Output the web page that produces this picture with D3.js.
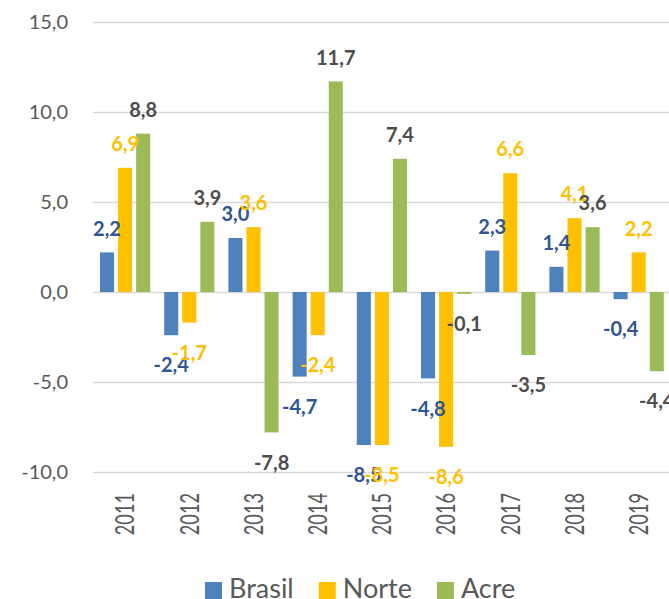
<!DOCTYPE html>
<html>
<head>
<meta charset="utf-8">
<script src="https://cdn.jsdelivr.net/npm/d3@7"></script>
<style>
    html, body { margin: 0; padding: 0; background: #fff; }
    #chart { width: 669px; height: 599px; overflow: hidden; }
    text { font-family: Lato, "Open Sans", sans-serif; }
</style>
</head>
<body>
<div id="chart"></div>
<script>
// Data
const years = ['2011', '2012', '2013', '2014', '2015', '2016', '2017', '2018', '2019'];
const seriesNames = ['Brasil', 'Norte', 'Acre'];
const brasil = [2.2, -2.4, 3.0, -4.7, -8.5, -4.8, 2.3, 1.4, -0.4];
const norte = [6.9, -1.7, 3.6, -2.4, -8.5, -8.6, 6.6, 4.1, 2.2];
const acre = [8.8, 3.9, -7.8, 11.7, 7.4, -0.1, -3.5, 3.6, -4.4];
const yTicks = [-10, -5, 0, 5, 10, 15];

// Colours per series
const barColors = {Brasil: '#4f81bd', Norte: '#ffc000', Acre: '#9bbb59'};
const labelColors = {Brasil: '#2f5597', Norte: '#ffc000', Acre: '#4d4d4d'};

const W = 669, H = 599;
const plot = {left: 93, top: 22, bottom: 472, step: 64.2};

const locale = d3.formatLocale({decimal: ',', thousands: '.', grouping: [3], currency: ['', ''], minus: '-'});
const fmt = locale.format('.1f');

const table = years.map((y, i) => ({
    year: y,
    values: [
        {name: 'Brasil', value: brasil[i]},
        {name: 'Norte', value: norte[i]},
        {name: 'Acre', value: acre[i]}
    ]
}));

const svg = d3.select('#chart')
    .append('svg')
    .attr('width', W)
    .attr('height', H);

// Scales
const x0 = d3.scaleBand()
    .domain(years)
    .range([plot.left, plot.left + plot.step * years.length])
    .paddingInner(14 / plot.step)
    .paddingOuter(7 / plot.step);

const x1 = d3.scaleBand()
    .domain(seriesNames)
    .range([0, x0.bandwidth()])
    .paddingInner(4 / 18);

const y = d3.scaleLinear()
    .domain([-10, 15])
    .range([plot.bottom, plot.top]);

// Gridlines + y labels
const yAxis = svg.append('g')
    .attr('transform', `translate(${plot.left},0)`)
    .call(d3.axisLeft(y)
        .tickValues(yTicks)
        .tickSize(-(W - plot.left + 10))
        .tickPadding(25)
        .tickFormat(fmt));

yAxis.select('.domain').remove();
yAxis.selectAll('line')
    .attr('stroke', '#d9d9d9')
    .attr('stroke-width', 1.5);
yAxis.selectAll('text')
    .attr('fill', '#595959')
    .style('font-size', '20px')
    .style('font-family', 'Lato, sans-serif');

// Bars
const groups = svg.append('g')
    .selectAll('g')
    .data(table)
    .enter().append('g')
    .attr('transform', d => `translate(${x0(d.year)},0)`);

groups.selectAll('rect')
    .data(d => d.values)
    .enter().append('rect')
    .attr('x', d => x1(d.name))
    .attr('y', d => y(Math.max(0, d.value)))
    .attr('width', x1.bandwidth())
    .attr('height', d => Math.abs(y(d.value) - y(0)))
    .attr('fill', d => barColors[d.name]);

// Data labels (outside end)
groups.selectAll('text.val')
    .data(d => d.values)
    .enter().append('text')
    .attr('class', 'val')
    .attr('x', d => x1(d.name) + x1.bandwidth() / 2)
    .attr('y', d => d.value >= 0 ? y(d.value) - 24 : y(d.value) + 30)
    .attr('dy', '0.36em')
    .attr('text-anchor', 'middle')
    .attr('fill', d => labelColors[d.name])
    .style('font-size', '20px')
    .style('font-weight', 'bold')
    .text(d => fmt(d.value));

// Year labels (rotated, squeezed along their length like the original)
svg.append('g')
    .selectAll('text')
    .data(years)
    .enter().append('text')
    .attr('transform', d => `translate(${x0(d) + x0.bandwidth() / 2},493) rotate(-90) scale(0.7,1)`)
    .attr('text-anchor', 'end')
    .attr('dy', '0.36em')
    .attr('fill', '#595959')
    .style('font-size', '26px')
    .text(d => d);

// Legend
const legend = svg.append('g').attr('class', 'legend');
let lx = 205;
seriesNames.forEach(name => {
    legend.append('rect')
        .attr('x', lx)
        .attr('y', 582)
        .attr('width', 17)
        .attr('height', 17)
        .attr('fill', barColors[name]);
    const t = legend.append('text')
        .attr('x', lx + 24)
        .attr('y', 598)
        .attr('fill', '#595959')
        .style('font-size', '27px')
        .text(name);
    lx += 24 + t.node().getComputedTextLength() + 25;
});
</script>
</body>
</html>
